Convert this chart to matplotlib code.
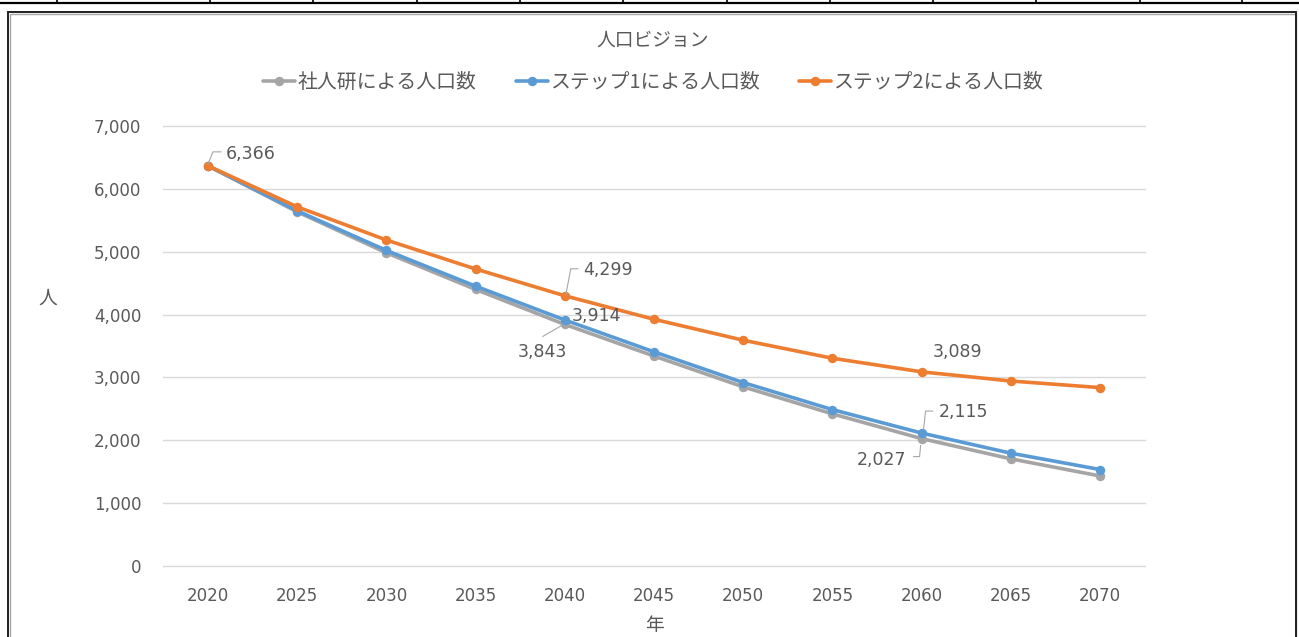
import matplotlib
matplotlib.use('Agg')
import matplotlib.pyplot as plt
import matplotlib.ticker as ticker
from matplotlib.patches import Rectangle
from matplotlib.lines import Line2D
from matplotlib.transforms import Affine2D

# data
years = ['2020', '2025', '2030', '2035', '2040', '2045', '2050', '2055', '2060', '2065', '2070']
ipss = [6366, 5635, 4982, 4400, 3843, 3340, 2850, 2420, 2027, 1705, 1432]
step1 = [6366, 5650, 5020, 4452, 3914, 3407, 2918, 2488, 2115, 1795, 1535]
step2 = [6366, 5714, 5186, 4725, 4299, 3925, 3592, 3305, 3089, 2943, 2838]
series_names = ['社人研による人口数', 'ステップ1による人口数', 'ステップ2による人口数']
colors = ['#A5A5A5', '#5B9BD5', '#ED7D31']
y_ticks = [0, 1000, 2000, 3000, 4000, 5000, 6000, 7000]

W, H = 1299, 637
CJK = ['Noto Sans CJK JP', 'DejaVu Sans']
TXT = '#595959'

fig = plt.figure(figsize=(W / 100, H / 100), dpi=100)
fig.patch.set_facecolor('white')

# spreadsheet row above the chart
fig.add_artist(Line2D([0, 1], [1 - 2.5 / H, 1 - 2.5 / H], color='black', lw=1.6,
                      transform=fig.transFigure))
for x in [57, 210, 313, 417, 520, 623, 727, 830, 933, 1036, 1140, 1242]:
    fig.add_artist(Line2D([x / W, x / W], [1, 1 - 3 / H], color='black', lw=1.2,
                          transform=fig.transFigure))

# chart frame
fig.add_artist(Rectangle((9.5 / W, -0.05), 1286 / W, 1.05 - 13.5 / H, fill=False,
                         edgecolor='#A6A6A6', lw=1.0, transform=fig.transFigure))
fig.add_artist(Rectangle((8 / W, -0.05), 1288 / W, 1.05 - 12 / H, fill=False,
                         edgecolor='#1F1F1F', lw=1.4, transform=fig.transFigure))

ax = fig.add_axes([163.4 / W, (H - 566) / H, (1144.6 - 163.4) / W, 440 / H])
x = list(range(len(years)))
for vals, name, c in zip([ipss, step1, step2], series_names, colors):
    ax.plot(x, vals, color=c, lw=2.6, marker='o', markersize=5.8, label=name,
            solid_capstyle='round', zorder=3)

ax.set_xlim(-0.5, len(years) - 0.5)
ax.set_ylim(0, 7000)
ax.set_yticks(y_ticks)
ax.yaxis.set_major_formatter(ticker.FuncFormatter(lambda v, p: f'{int(v):,}'))
ax.set_xticks(x)
ax.set_xticklabels(years)
ax.grid(axis='y', color='#D9D9D9', lw=1.0)
for gl in ax.get_ygridlines():
    gl.set_clip_on(False)
ax.set_axisbelow(True)
for s in ax.spines.values():
    s.set_visible(False)
ax.tick_params(length=0, colors=TXT, labelsize=12)
ax.tick_params(axis='y', pad=16)
ax.tick_params(axis='x', pad=15)
for lab in ax.get_xticklabels() + ax.get_yticklabels():
    lab.set_family('DejaVu Sans')

# title, legend, axis titles
fig.text(653 / W, 1 - 40 / H, '人口ビジョン', ha='center', va='center', fontsize=13.5,
         color=TXT, family=CJK)
fig.text(48 / W, 1 - 298 / H, '人', ha='center', va='center', fontsize=13.5, color=TXT, family=CJK)
fig.text(654 / W, 1 - 625 / H, '年', ha='center', va='center', fontsize=13.5, color=TXT, family=CJK)
leg = fig.legend(loc='center', bbox_to_anchor=(653 / W, 1 - 82 / H), ncol=3, frameon=False,
                 handlelength=1.6, handletextpad=0.1, columnspacing=2.0,
                 prop={'family': CJK, 'size': 14.3})
for t in leg.get_texts():
    t.set_color(TXT)

# data labels with leader lines (offsets in pixels from the point)
data = {'ipss': ipss, 'step1': step1, 'step2': step2}
labels = [
    ('step2', 0, (18, 12), 'left', [(0, 2), (5, 14), (13, 14)]),
    ('step2', 4, (18, 26), 'left', [(1, 1), (6, 27), (13, 27)]),
    ('step1', 4, (7, 4), 'left', None),
    ('ipss', 4, (2, -28), 'right', [(-22, -12), (-3, -1)]),
    ('step2', 8, (11, 20), 'left', None),
    ('step1', 8, (17, 21), 'left', [(2, 4), (4, 22), (11, 22)]),
    ('ipss', 8, (-15, -21), 'right', [(-8, -18), (-2, -18), (-1, -7)]),
]
fig.canvas.draw()
for key, i, (dx, dy), ha, leader in labels:
    v = data[key][i]
    ax.annotate(f'{v:,}', (i, v), xytext=(dx, dy), textcoords='offset pixels',
                ha=ha, va='center', fontsize=12.5, color=TXT, family='DejaVu Sans', zorder=5)
    if leader:
        px, py = ax.transData.transform((i, v))
        fig.add_artist(Line2D([p[0] for p in leader], [p[1] for p in leader],
                              color='#A6A6A6', lw=0.8,
                              transform=Affine2D().translate(px, py)))

fig.savefig('out.png', dpi=100, facecolor='white')
